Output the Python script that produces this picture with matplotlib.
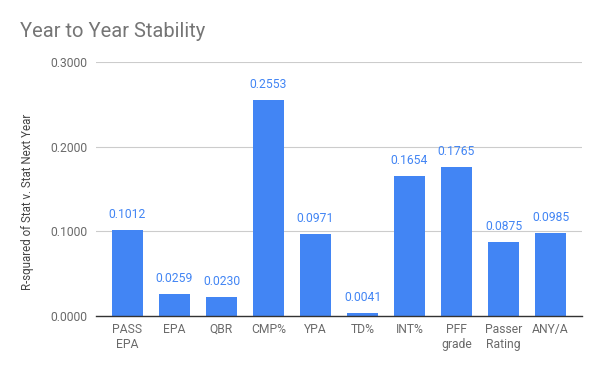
import matplotlib
matplotlib.use("Agg")
import matplotlib.pyplot as plt

categories = ["PASS\nEPA", "EPA", "QBR", "CMP%", "YPA", "TD%", "INT%", "PFF\ngrade", "Passer\nRating", "ANY/A"]
values = [0.1012, 0.0259, 0.0230, 0.2553, 0.0971, 0.0041, 0.1654, 0.1765, 0.0875, 0.0985]
yticks = [0.0, 0.1, 0.2, 0.3]

plt.rcParams['font.family'] = ['Roboto', 'DejaVu Sans']

fig = plt.figure(figsize=(6, 3.71), dpi=100)
ax = fig.add_axes([0.16, 0.148, 0.81, 0.685])

x = list(range(len(categories)))
bars = ax.bar(x, values, width=0.66, color="#4285F4", zorder=3)
for xi, v in zip(x, values):
    ax.text(xi, v + 0.0105, f"{v:.4f}", ha="center", va="bottom", color="#4285F4", fontsize=8.7)

ax.set_xlim(-0.67, len(categories) - 1 + 0.67)
ax.set_ylim(0, 0.3)
ax.set_yticks(yticks)
ax.set_yticklabels([f"{t:.4f}" for t in yticks])
ax.set_xticks(x)
ax.set_xticklabels(categories)
ax.tick_params(axis="both", length=0, labelsize=8.7, colors="#6a6a6a")
ax.tick_params(axis="y", pad=6)
ax.tick_params(axis="x", pad=5)
ax.grid(axis="y", color="#cccccc", linewidth=0.8, zorder=0)
for s in ["top", "right", "left"]:
    ax.spines[s].set_visible(False)
ax.spines["bottom"].set_color("#333333")
ax.spines["bottom"].set_linewidth(1)
ax.spines["bottom"].set_zorder(4)
ax.set_ylabel("R-squared of Stat v. Stat Next Year", fontsize=8.3, color="#444444")
ax.yaxis.set_label_coords(-0.128, 0.45)

fig.text(0.033, 0.915, "Year to Year Stability", fontsize=14.5, color="#757575", ha="left", va="center")

fig.savefig("out.png", dpi=100)
